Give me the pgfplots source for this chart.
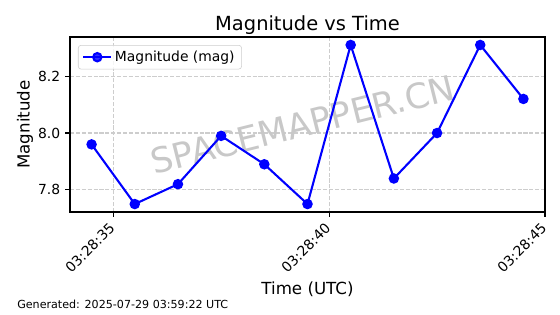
\documentclass[border=0pt]{standalone}
\usepackage{fontspec}
\setmainfont{DejaVu Sans}
\usepackage{pgfplots}
\pgfplotsset{compat=1.18}
\definecolor{mblue}{RGB}{0,0,255}
\definecolor{gridc}{RGB}{205,205,205}
\definecolor{wm}{RGB}{200,200,200}
\begin{document}
\begin{tikzpicture}
\useasboundingbox (0,0) rectangle (403.2pt,226.08pt);
\begin{axis}[
  at={(50.4pt,73.44pt)}, anchor=south west,
  scale only axis, width=342pt, height=126pt,
  xmin=34, xmax=45, ymin=7.722, ymax=8.338,
  xtick={35,40,45}, xticklabels={03:28:35,03:28:40,03:28:45},
  ytick={7.8,8.0,8.2}, yticklabels={7.8,8.0,8.2},
  tick align=outside, major tick length=3.5pt,
  tick style={line width=0.8pt, black},
  xtick pos=bottom, ytick pos=left,
  axis line style={line width=0.8pt},
  ticklabel style={font=\fontsize{10}{12}\selectfont},
  xticklabel style={rotate=45, anchor=north east, inner sep=0pt, xshift=-5pt, yshift=0pt},
  grid=major, grid style={gridc, line width=0.8pt, dash pattern=on 2.96pt off 1.28pt},
  xlabel={Time (UTC)}, ylabel={Magnitude},
  label style={font=\fontsize{12}{14}\selectfont},
  xlabel style={at={(axis description cs:0.5,-0.44)}, anchor=center},
  ylabel style={at={(axis description cs:-0.0947,0.5)}, anchor=center},
  legend style={at={(axis description cs:0.0168,0.954)}, anchor=north west,
    draw=gridc, rounded corners=2pt, fill=white, fill opacity=0.8, text opacity=1,
    font=\fontsize{10}{12}\selectfont, inner xsep=3pt, inner ysep=2pt},
  legend cell align=left,
  legend image code/.code={\draw[mark repeat=2,mark phase=2,#1] plot coordinates {(0cm,0cm) (0.35cm,0cm) (0.7cm,0cm)};},
]
\node[rotate=14, text=wm, font=\fontsize{25}{30}\selectfont] at (axis description cs:0.49,0.5) {SPACEMAPPER.CN};
\addplot[mblue, line width=1.5pt, mark=*, mark size=3pt, mark options={fill=mblue, draw=mblue}] coordinates {
 (34.5,7.96) (35.5,7.75) (36.5,7.82) (37.5,7.99) (38.5,7.89) (39.5,7.75)
 (40.5,8.31) (41.5,7.84) (42.5,8.00) (43.5,8.31) (44.5,8.12)
};
\addlegendentry{Magnitude (mag)}
\end{axis}
\node[anchor=center, font=\fontsize{14}{16}\selectfont, inner sep=0pt] at (221.4pt,208.3pt) {Magnitude vs Time};
\node[anchor=base west, font=\fontsize{8}{10}\selectfont, inner sep=0pt] at (12.24pt,4.32pt) {Generated: 2025-07-29 03:59:22 UTC};
\end{tikzpicture}
\end{document}
